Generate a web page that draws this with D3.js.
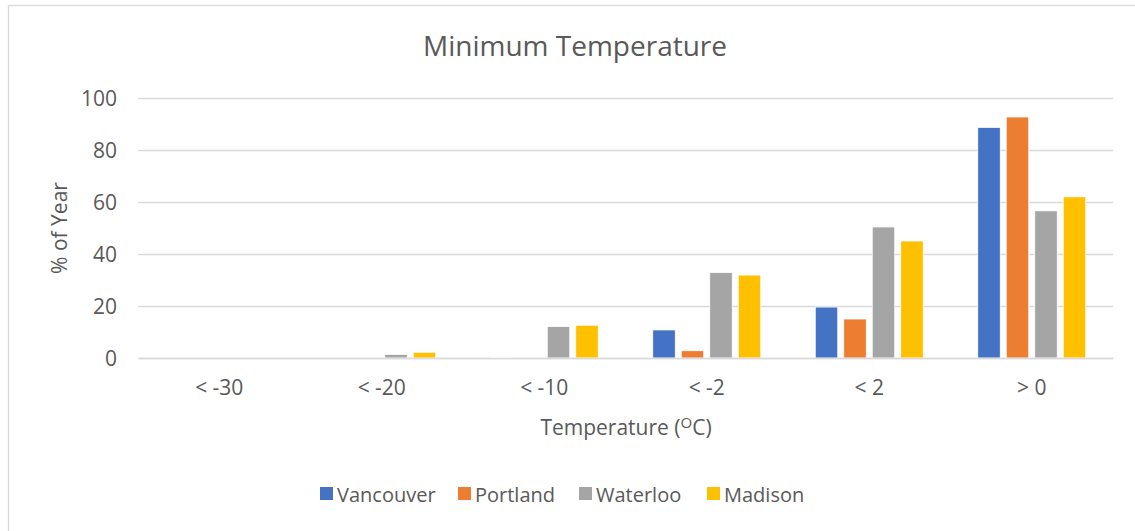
<!DOCTYPE html>
<html>
<head>
<meta charset="utf-8">
<script src="https://cdn.jsdelivr.net/npm/d3@7"></script>
<style>
  html, body { margin: 0; padding: 0; background: #ffffff; }
  svg { display: block; }
  text { font-family: "Open Sans", "Liberation Sans", sans-serif; fill: #595959; }
</style>
</head>
<body>
<svg id="chart" width="1135" height="531"></svg>
<script>
// Temperature bins (minimum daily temperature)
const categories = ["< -30", "< -20", "< -10", "< -2", "< 2", "> 0"];

// Share of the year (%) per city
const seriesNames = ["Vancouver", "Portland", "Waterloo", "Madison"];
const vancouver = [0, 0, 0.2, 10.8, 19.6, 88.7];
const portland  = [0, 0, 0, 2.8, 15.0, 92.7];
const waterloo  = [0, 1.4, 12.1, 32.9, 50.4, 56.6];
const madison   = [0, 2.2, 12.6, 31.9, 45.0, 62.0];
const seriesColors = ["#4472C4", "#ED7D31", "#A5A5A5", "#FFC000"];

const yTicks = [0, 20, 40, 60, 80, 100];

const seriesValues = [vancouver, portland, waterloo, madison];
const rows = categories.map((c, i) => ({
  category: c,
  values: seriesNames.map((s, j) => ({ series: s, value: seriesValues[j][i] }))
}));

const svg = d3.select("#chart");

// Outer chart frame
svg.append("rect")
  .attr("x", 8.5).attr("y", 5.5)
  .attr("width", 1140).attr("height", 540)
  .attr("fill", "#ffffff")
  .attr("stroke", "#d9d9d9")
  .attr("stroke-width", 1.3);

const plot = { left: 138, right: 1113, top: 98, bottom: 358 };

const x0 = d3.scaleBand()
  .domain(categories)
  .range([plot.left, plot.right])
  .padding(0);

const groupInset = 27.25;
const x1 = d3.scaleBand()
  .domain(seriesNames)
  .range([groupInset, x0.bandwidth() - groupInset])
  .paddingInner(0.21)
  .paddingOuter(0);

const y = d3.scaleLinear()
  .domain([0, 100])
  .range([plot.bottom, plot.top]);

const color = d3.scaleOrdinal().domain(seriesNames).range(seriesColors);

// Horizontal gridlines
const yAxis = d3.axisLeft(y)
  .tickValues(yTicks)
  .tickSize(-(plot.right - plot.left))
  .tickPadding(21)
  .tickFormat(d3.format("d"));

const gy = svg.append("g")
  .attr("transform", `translate(${plot.left},0)`)
  .call(yAxis);
gy.select(".domain").remove();
gy.selectAll(".tick line")
  .attr("stroke", "#d9d9d9")
  .attr("stroke-width", 1.3);
gy.selectAll(".tick text")
  .attr("fill", "#595959")
  .style("font-size", "21px")
  .attr("dy", "0.35em");

// Bars
const groups = svg.append("g")
  .selectAll("g")
  .data(rows)
  .join("g")
  .attr("transform", d => `translate(${x0(d.category)},0)`);

groups.selectAll("rect")
  .data(d => d.values)
  .join("rect")
  .attr("x", d => x1(d.series))
  .attr("y", d => y(d.value))
  .attr("width", x1.bandwidth())
  .attr("height", d => y(0) - y(d.value))
  .attr("fill", d => color(d.series))
  .attr("stroke", "#ffffff")
  .attr("stroke-width", 0.8);

// Category axis (baseline + labels)
const xAxis = d3.axisBottom(x0).tickSize(0).tickPadding(22);
const gx = svg.append("g")
  .attr("transform", `translate(0,${plot.bottom})`)
  .call(xAxis);
gx.select(".domain")
  .attr("stroke", "#d9d9d9")
  .attr("stroke-width", 1.3);
gx.selectAll(".tick text")
  .attr("fill", "#595959")
  .style("font-size", "21px");

// Title
svg.append("text")
  .attr("x", 575)
  .attr("y", 56)
  .attr("text-anchor", "middle")
  .style("font-size", "28px")
  .text("Minimum Temperature");

// Axis titles
const xTitle = svg.append("text")
  .attr("x", 626)
  .attr("y", 435)
  .attr("text-anchor", "middle")
  .style("font-size", "21px");
xTitle.append("tspan").text("Temperature (");
xTitle.append("tspan").attr("dy", -7).style("font-size", "15px").text("O");
xTitle.append("tspan").attr("dy", 7).text("C)");

svg.append("text")
  .attr("transform", "translate(67,228) rotate(-90)")
  .attr("text-anchor", "middle")
  .style("font-size", "21px")
  .text("% of Year");

// Legend
const legendX = [320, 458, 579, 707];
const legend = svg.append("g")
  .selectAll("g")
  .data(seriesNames)
  .join("g")
  .attr("transform", (d, i) => `translate(${legendX[i]},487)`);
legend.append("rect")
  .attr("width", 13).attr("height", 13)
  .attr("fill", d => color(d));
legend.append("text")
  .attr("x", 17)
  .attr("y", 14.5)
  .style("font-size", "20px")
  .text(d => d);
</script>
</body>
</html>
